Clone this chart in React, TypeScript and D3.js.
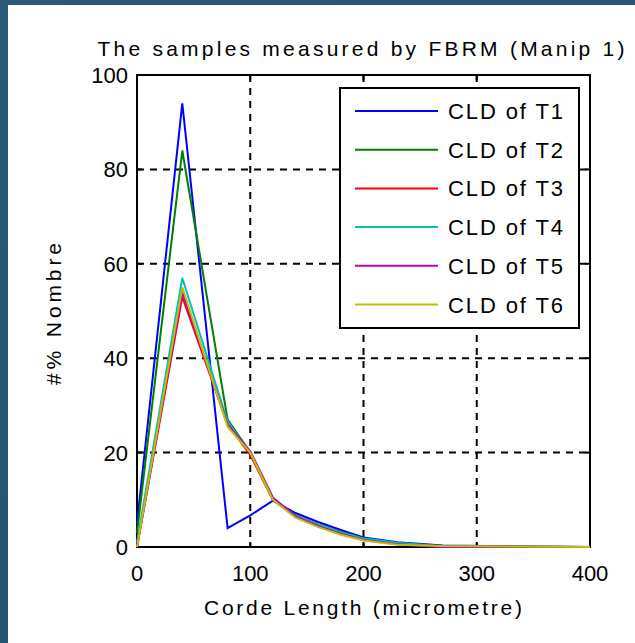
import React from "react";
import * as d3 from "d3";

const xValues = [0, 40, 80, 100, 120, 140, 160, 180, 200, 230, 270, 400];
const seriesNames = ["CLD of T1", "CLD of T2", "CLD of T3", "CLD of T4", "CLD of T5", "CLD of T6"];
const t1 = [5, 94, 4, 6.7, 9.8, 7.2, 5.3, 3.6, 2.0, 1.0, 0.3, 0];
const t2 = [3, 84, 27, 20, 10, 6.7, 4.8, 3.2, 1.8, 0.8, 0.2, 0];
const t3 = [0, 53, 26, 19.5, 10, 6.4, 4.5, 2.9, 1.6, 0.6, 0, 0];
const t4 = [1, 57, 26.5, 20, 10.2, 6.6, 4.7, 3.1, 1.8, 0.9, 0.1, 0];
const t5 = [0, 54, 26, 20.3, 10.5, 6.5, 4.4, 2.8, 1.5, 0.6, 0, 0];
const t6 = [0, 55, 25.5, 20, 10, 6.2, 4.2, 2.6, 1.4, 0.5, 0.2, 0];
const seriesValues = [t1, t2, t3, t4, t5, t6];
const seriesColors = ["#0000ff", "#008000", "#ff0000", "#00bfbf", "#bf00bf", "#bfbf00"];
const xTicks = [0, 100, 200, 300, 400];
const yTicks = [0, 20, 40, 60, 80, 100];

const W = 635;
const H = 643;
const FONT = "'Liberation Sans', Arial, sans-serif";

export default function App() {
  const x = d3.scaleLinear().domain([0, 400]).range([137, 590]);
  const y = d3.scaleLinear().domain([0, 100]).range([547, 75]);
  const line = d3
    .line<number>()
    .x((_, i) => x(xValues[i]))
    .y((d) => y(d));

  const left = x(0), right = x(400), top = y(100), bottom = y(0);

  return (
    <svg
      width={W}
      height={H}
      style={{ position: "fixed", left: 0, top: 0, display: "block" }}
    >
      <defs>
        <linearGradient id="bg" x1="0" y1="0" x2="1" y2="1">
          <stop offset="0" stopColor="#2a5a78" />
          <stop offset="1" stopColor="#224d68" />
        </linearGradient>
      </defs>
      <rect x={0} y={0} width={W} height={H} fill="url(#bg)" />
      <rect x={8} y={5} width={W - 8} height={H - 5} fill="#ffffff" />

      {/* grid */}
      {xTicks.slice(1, -1).map((t) => (
        <line key={"gx" + t} x1={x(t)} x2={x(t)} y1={top} y2={bottom}
          stroke="#000" strokeWidth={2} strokeDasharray="7,6" />
      ))}
      {yTicks.slice(1, -1).map((t) => (
        <line key={"gy" + t} x1={left} x2={right} y1={y(t)} y2={y(t)}
          stroke="#000" strokeWidth={2} strokeDasharray="7,6" />
      ))}

      {/* axes box */}
      <rect x={left} y={top} width={right - left} height={bottom - top}
        fill="none" stroke="#000" strokeWidth={2} />
      {xTicks.map((t) => (
        <g key={"tx" + t}>
          <line x1={x(t)} x2={x(t)} y1={bottom} y2={bottom - 5} stroke="#000" strokeWidth={2} />
          <line x1={x(t)} x2={x(t)} y1={top} y2={top + 5} stroke="#000" strokeWidth={2} />
          <text x={x(t)} y={581} textAnchor="middle" fontFamily={FONT} fontSize={22} fill="#000">{t}</text>
        </g>
      ))}
      {yTicks.map((t) => (
        <g key={"ty" + t}>
          <line x1={left} x2={left + 5} y1={y(t)} y2={y(t)} stroke="#000" strokeWidth={2} />
          <line x1={right} x2={right - 5} y1={y(t)} y2={y(t)} stroke="#000" strokeWidth={2} />
          <text x={128} y={y(t) + 8} textAnchor="end" fontFamily={FONT} fontSize={22} fill="#000">{t}</text>
        </g>
      ))}

      {/* data */}
      {seriesValues.map((vals, i) => (
        <path key={"s" + i} d={line(vals) || ""} fill="none" stroke={seriesColors[i]} strokeWidth={2} />
      ))}

      {/* legend */}
      <rect x={340} y={88} width={239} height={240} fill="#fff" stroke="#000" strokeWidth={2} />
      {seriesNames.map((name, i) => {
        const ly = 111 + i * 38.7;
        return (
          <g key={"l" + i}>
            <line x1={355} x2={438} y1={ly} y2={ly} stroke={seriesColors[i]} strokeWidth={2} />
            <text x={448} y={ly + 8} fontFamily={FONT} fontSize={22} fill="#000"
              textLength={115} lengthAdjust="spacing">{name}</text>
          </g>
        );
      })}

      {/* titles */}
      <text x={361} y={56} textAnchor="middle" fontFamily={FONT} fontSize={21} fill="#000"
        textLength={527} lengthAdjust="spacing">The samples measured by FBRM (Manip 1)</text>
      <text x={363} y={615} textAnchor="middle" fontFamily={FONT} fontSize={21} fill="#000"
        textLength={318} lengthAdjust="spacing">Corde Length (micrometre)</text>
      <text transform="translate(61,314) rotate(-90)" textAnchor="middle" fontFamily={FONT} fontSize={21} fill="#000"
        textLength={142} lengthAdjust="spacing">#% Nombre</text>
    </svg>
  );
}
